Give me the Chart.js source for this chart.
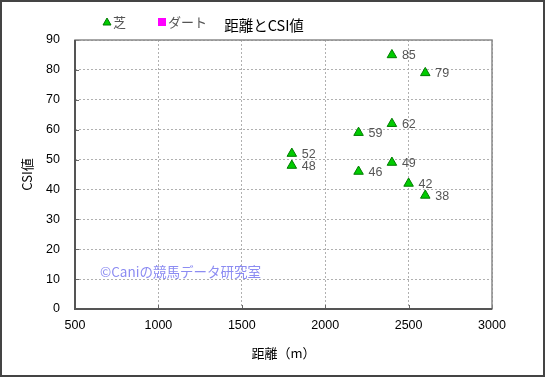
<!DOCTYPE html>
<html>
<head>
<meta charset="utf-8">
<script src="https://cdn.jsdelivr.net/npm/chart.js@4/dist/chart.umd.min.js"></script>
<style>
    html, body { margin: 0; padding: 0; background: #fff; }
    canvas { display: block; }
</style>
</head>
<body>
<canvas id="chart" width="545" height="377"></canvas>
<script>
// 芝 (turf) races: distance and CSI value
const turfDistances = [1800, 1800, 2200, 2200, 2400, 2400, 2400, 2500, 2600, 2600]
const turfCsi = [52, 48, 59, 46, 85, 62, 49, 42, 79, 38]
// ダート (dirt): none in this chart
const dirtDistances = []
const dirtCsi = []

const xTicks = [500, 1000, 1500, 2000, 2500, 3000]
const yTicks = [0, 10, 20, 30, 40, 50, 60, 70, 80, 90]

const chartTitle = "距離とCSI値"
const xTitle = "距離（m）"
const yTitle = "CSI値"
const watermark = "©Caniの競馬データ研究室"

const jpFont = "'Noto Sans CJK JP', 'Liberation Sans', sans-serif"
const numFont = "'Liberation Sans', Arial, sans-serif"

const toPoints = (xs, ys) => xs.map((x, i) => ({ x, y: ys[i] }))

const decorations = {
    id: "decorations",
    beforeDatasetsDraw(chart) {
        const { ctx, chartArea, scales } = chart
        ctx.save()
        // little inward tick marks
        ctx.strokeStyle = "#666"
        ctx.lineWidth = 1
        ctx.beginPath()
        xTicks.forEach((t) => {
            const px = Math.round(scales.x.getPixelForValue(t)) + 0.5
            ctx.moveTo(px, chartArea.bottom)
            ctx.lineTo(px, chartArea.bottom - 4)
        })
        yTicks.forEach((t) => {
            const py = Math.round(scales.y.getPixelForValue(t)) + 0.5
            ctx.moveTo(chartArea.left, py)
            ctx.lineTo(chartArea.left + 4, py)
        })
        ctx.stroke()
        // plot frame
        ctx.strokeStyle = "#8a8a8a"
        ctx.lineWidth = 1.5
        ctx.strokeRect(chartArea.left, chartArea.top, chartArea.right - chartArea.left, chartArea.bottom - chartArea.top)
        ctx.strokeStyle = "#555"
        ctx.lineWidth = 2
        ctx.beginPath()
        ctx.moveTo(chartArea.left, chartArea.top)
        ctx.lineTo(chartArea.left, chartArea.bottom)
        ctx.lineTo(chartArea.right, chartArea.bottom)
        ctx.stroke()

        // watermark
        ctx.fillStyle = "#8c8cf2"
        ctx.font = "13.5px " + jpFont
        ctx.textAlign = "left"
        ctx.textBaseline = "middle"
        ctx.fillText(watermark, 100, 272)
        ctx.restore()
    },
    afterDatasetsDraw(chart) {
        const { ctx } = chart
        ctx.save()
        ctx.fillStyle = "#555"
        ctx.font = "12.5px " + numFont
        ctx.textAlign = "left"
        ctx.textBaseline = "middle"
        chart.data.datasets.forEach((ds, di) => {
            chart.getDatasetMeta(di).data.forEach((el, i) => {
                ctx.fillText(String(ds.data[i].y), el.x + 10, el.y + 1)
            })
        })
        ctx.restore()
    },
    afterDraw(chart) {
        const { ctx, width, height } = chart
        ctx.save()
        // title
        ctx.fillStyle = "#000"
        ctx.font = "14.5px " + jpFont
        ctx.textAlign = "center"
        ctx.textBaseline = "middle"
        ctx.fillText(chartTitle, 264, 25)

        // legend
        const items = [
            { x: 107, ds: chart.data.datasets[0] },
            { x: 162, ds: chart.data.datasets[1] },
        ]
        const ly = 22
        ctx.font = "13px " + jpFont
        ctx.textAlign = "left"
        items.forEach(({ x, ds }) => {
            ctx.fillStyle = ds.backgroundColor
            ctx.strokeStyle = ds.borderColor
            ctx.lineWidth = 1
            ctx.beginPath()
            if (ds.pointStyle === "triangle") {
                ctx.moveTo(x, ly - 4)
                ctx.lineTo(x + 4, ly + 3)
                ctx.lineTo(x - 4, ly + 3)
                ctx.closePath()
                ctx.fill()
                ctx.stroke()
            } else {
                ctx.fillRect(x - 4, ly - 4, 8, 8)
            }
            ctx.fillStyle = "#555"
            ctx.fillText(ds.label, x + 6, ly)
        })

        // outer border
        ctx.strokeStyle = "#444"
        ctx.lineWidth = 2
        ctx.strokeRect(1, 1, width - 2, height - 2)
        ctx.restore()
    },
}

new Chart(document.getElementById("chart"), {
    type: "scatter",
    data: {
        datasets: [
            {
                label: "芝",
                data: toPoints(turfDistances, turfCsi),
                pointStyle: "triangle",
                pointRadius: 5.5,
                pointHoverRadius: 5.5,
                backgroundColor: "#00cc00",
                borderColor: "#007a00",
                borderWidth: 1,
            },
            {
                label: "ダート",
                data: toPoints(dirtDistances, dirtCsi),
                pointStyle: "rect",
                pointRadius: 5,
                backgroundColor: "#ff00ff",
                borderColor: "#ff00ff",
                borderWidth: 0,
            },
        ],
    },
    options: {
        responsive: false,
        animation: false,
        layout: {
            padding: { left: 0, top: 40, right: 53, bottom: 0 },
        },
        plugins: {
            legend: { display: false },
            title: { display: false },
            tooltip: { enabled: false },
        },
        scales: {
            x: {
                type: "linear",
                min: 500,
                max: 3000,
                afterFit: (scale) => { scale.height = 68 },
                afterBuildTicks: (scale) => { scale.ticks = xTicks.map((v) => ({ value: v })) },
                grid: { color: "#b0b0b0", drawTicks: false },
                border: { display: false, dash: [2, 2] },
                ticks: {
                    color: "#000",
                    padding: 9,
                    font: { family: numFont, size: 12.5 },
                    callback: (v) => String(v),
                },
                title: {
                    display: true,
                    text: xTitle,
                    color: "#000",
                    font: { family: jpFont, size: 13 },
                    padding: { top: 0, bottom: 16 },
                },
            },
            y: {
                type: "linear",
                min: 0,
                max: 90,
                afterFit: (scale) => { scale.width = 75 },
                afterBuildTicks: (scale) => { scale.ticks = yTicks.map((v) => ({ value: v })) },
                grid: { color: "#b0b0b0", drawTicks: false },
                border: { display: false, dash: [2, 2] },
                ticks: {
                    color: "#000",
                    padding: 15,
                    font: { family: numFont, size: 12.5 },
                    callback: (v) => String(v),
                },
                title: {
                    display: true,
                    text: yTitle,
                    color: "#000",
                    font: { family: jpFont, size: 13 },
                    padding: { top: 19, bottom: 0 },
                },
            },
        },
    },
    plugins: [decorations],
})
</script>
</body>
</html>
